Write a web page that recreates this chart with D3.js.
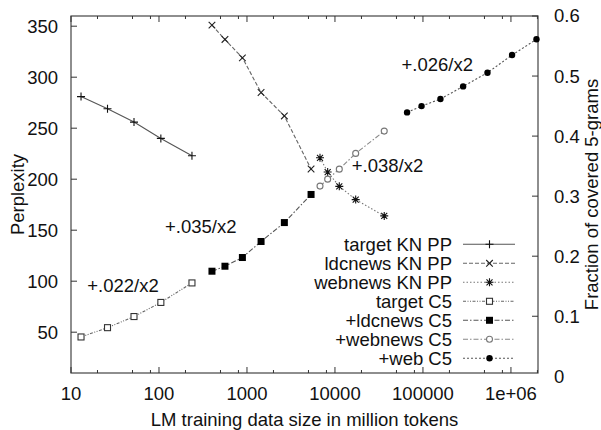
<!DOCTYPE html>
<html>
<head>
<meta charset="utf-8">
<script src="https://cdn.jsdelivr.net/npm/d3@7"></script>
<style>
  body { margin: 0; background: #fff; }
  text { font-family: "Liberation Sans", Arial, sans-serif; fill: #111; }
</style>
</head>
<body>
<div id="chart_area"></div>
<script>
// Data.
var target_size = [13, 26, 52, 105, 237];
var ldc_size = [400, 562, 887, 1446, 2660, 5350];
var webnews_size = [6760, 8260, 11200, 17200, 36300];
var web_size = [66000, 96400, 158000, 286000, 541000, 1030000, 1950000];

var target_pp = [281, 269, 256, 240, 223];
var ldc_pp = [351, 337, 319, 285, 262, 210];
var webnews_pp = [221, 207, 193, 180, 164];

var target_c5 = [0.0655, 0.081, 0.0995, 0.123, 0.1555];
var ldc_c5 = [0.175, 0.1833, 0.1978, 0.2245, 0.256, 0.3028];
var webnews_c5 = [0.3167, 0.3283, 0.345, 0.3712, 0.4083];
var web_c5 = [0.4395, 0.45, 0.4617, 0.4828, 0.5055, 0.535, 0.5612];

var x_major = [10, 100, 1000, 10000, 100000, 1000000];
var x_labels = ["10", "100", "1000", "10000", "100000", "1e+06"];
var y_ticks = [50, 100, 150, 200, 250, 300, 350];
var y2_ticks = [0, 0.1, 0.2, 0.3, 0.4, 0.5, 0.6];
var y2_labels = ["0", "0.1", "0.2", "0.3", "0.4", "0.5", "0.6"];

// annotation anchors in data units (left edge, perplexity axis)
var notes = [
  {text: "+.022/x2", x: 15.3, y: 96},
  {text: "+.035/x2", x: 117, y: 154},
  {text: "+.038/x2", x: 15500, y: 213},
  {text: "+.026/x2", x: 57100, y: 312}
];

var series = [
  {name: "target KN PP", xs: target_size, ys: target_pp, axis: "y", marker: "plus", dash: null, color: "#555"},
  {name: "ldcnews KN PP", xs: ldc_size, ys: ldc_pp, axis: "y", marker: "cross", dash: "4,2", color: "#666"},
  {name: "webnews KN PP", xs: webnews_size, ys: webnews_pp, axis: "y", marker: "star", dash: "1.5,2", color: "#777"},
  {name: "target C5", xs: target_size, ys: target_c5, axis: "y2", marker: "square", dash: "3,1.5,1,1.5,1,1.5", color: "#666"},
  {name: "+ldcnews C5", xs: ldc_size, ys: ldc_c5, axis: "y2", marker: "fsquare", dash: "5,2,1.5,2", color: "#555"},
  {name: "+webnews C5", xs: webnews_size, ys: webnews_c5, axis: "y2", marker: "circle", dash: "5,2,1.5,2", color: "#888"},
  {name: "+web C5", xs: web_size, ys: web_c5, axis: "y2", marker: "fcircle", dash: "2,2", color: "#555"}
];

var frame_width = 601, frame_height = 430;
var margin = {top: 16, right: 63, bottom: 57, left: 71};
var canvas_width = frame_width - margin.left - margin.right;
var canvas_height = frame_height - margin.top - margin.bottom;

var frame = d3.select("#chart_area").append("svg")
  .attr("width", frame_width).attr("height", frame_height);
var canvas = frame.append("g")
  .attr("transform", "translate(" + margin.left + "," + margin.top + ")");

var xScale = d3.scaleLog().domain([10, 2.03e6]).range([0, canvas_width]);
var yScale = d3.scaleLinear().domain([10, 360]).range([canvas_height, 0]);
var y2Scale = d3.scaleLinear().domain([0, 0.6]).range([canvas_height + 3.3, 0]);

var fs = 18.5;
var tick_col = "#333";

// frame
canvas.append("rect")
  .attr("width", canvas_width).attr("height", canvas_height)
  .attr("fill", "none").attr("stroke", "#444").attr("stroke-width", 1.2);

// x ticks (bottom and mirrored top)
var x_minor = [];
x_major.forEach(function(m) {
  [2, 5, 8].forEach(function(k) { if (m * k <= 2.03e6) x_minor.push(m * k); });
});
var ticks = canvas.append("g").attr("stroke", tick_col).attr("stroke-width", 1);
x_major.forEach(function(v) {
  var px = xScale(v);
  ticks.append("line").attr("x1", px).attr("x2", px).attr("y1", canvas_height).attr("y2", canvas_height - 6);
  ticks.append("line").attr("x1", px).attr("x2", px).attr("y1", 0).attr("y2", 6);
});
x_minor.forEach(function(v) {
  var px = xScale(v);
  ticks.append("line").attr("x1", px).attr("x2", px).attr("y1", canvas_height).attr("y2", canvas_height - 3);
  ticks.append("line").attr("x1", px).attr("x2", px).attr("y1", 0).attr("y2", 3);
});
y_ticks.forEach(function(v) {
  var py = yScale(v);
  ticks.append("line").attr("x1", 0).attr("x2", 6).attr("y1", py).attr("y2", py);
});
y2_ticks.forEach(function(v) {
  var py = y2Scale(v);
  if (py > canvas_height) return;
  ticks.append("line").attr("x1", canvas_width).attr("x2", canvas_width - 6).attr("y1", py).attr("y2", py);
});

// tick labels
canvas.selectAll(".xl").data(x_major).enter().append("text")
  .attr("x", function(d) { return xScale(d); })
  .attr("y", canvas_height + 27)
  .attr("text-anchor", "middle").style("font-size", fs + "px")
  .text(function(d, i) { return x_labels[i]; });
canvas.selectAll(".yl").data(y_ticks).enter().append("text")
  .attr("x", -13).attr("y", function(d) { return yScale(d); })
  .attr("dy", "0.35em").attr("text-anchor", "end").style("font-size", fs + "px")
  .text(function(d) { return d; });
canvas.selectAll(".y2l").data(y2_ticks).enter().append("text")
  .attr("x", canvas_width + 16).attr("y", function(d) { return y2Scale(d); })
  .attr("dy", "0.35em").attr("text-anchor", "start").style("font-size", fs + "px")
  .text(function(d, i) { return y2_labels[i]; });

// axis titles
frame.append("text")
  .attr("x", margin.left + canvas_width / 2).attr("y", 426)
  .attr("text-anchor", "middle").style("font-size", fs + "px")
  .text("LM training data size in million tokens");
frame.append("text")
  .attr("transform", "translate(24," + (margin.top + canvas_height / 2) + ") rotate(-90)")
  .attr("text-anchor", "middle").style("font-size", fs + "px")
  .text("Perplexity");
frame.append("text")
  .attr("transform", "translate(598," + (margin.top + canvas_height / 2) + ") rotate(-90)")
  .attr("text-anchor", "middle").style("font-size", fs + "px")
  .text("Fraction of covered 5-grams");

// markers
function drawMarker(g, type, x, y) {
  var s = 4;
  if (type == "plus") {
    g.append("path").attr("d", "M" + (x - s) + "," + y + "H" + (x + s) + "M" + x + "," + (y - s) + "V" + (y + s))
      .attr("stroke", "#111").attr("stroke-width", 1.1).attr("fill", "none");
  } else if (type == "cross") {
    var c = 3.3;
    g.append("path").attr("d", "M" + (x - c) + "," + (y - c) + "L" + (x + c) + "," + (y + c) + "M" + (x - c) + "," + (y + c) + "L" + (x + c) + "," + (y - c))
      .attr("stroke", "#222").attr("stroke-width", 1.1).attr("fill", "none");
  } else if (type == "star") {
    var c2 = 3;
    g.append("path").attr("d", "M" + (x - s) + "," + y + "H" + (x + s) + "M" + x + "," + (y - s) + "V" + (y + s) +
      "M" + (x - c2) + "," + (y - c2) + "L" + (x + c2) + "," + (y + c2) + "M" + (x - c2) + "," + (y + c2) + "L" + (x + c2) + "," + (y - c2))
      .attr("stroke", "#111").attr("stroke-width", 1.1).attr("fill", "none");
  } else if (type == "square") {
    g.append("rect").attr("x", x - 3).attr("y", y - 3).attr("width", 6).attr("height", 6)
      .attr("fill", "#fff").attr("stroke", "#333").attr("stroke-width", 1.1);
  } else if (type == "fsquare") {
    g.append("rect").attr("x", x - 3.5).attr("y", y - 3.5).attr("width", 7).attr("height", 7)
      .attr("fill", "#000");
  } else if (type == "circle") {
    g.append("circle").attr("cx", x).attr("cy", y).attr("r", 3)
      .attr("fill", "#fff").attr("stroke", "#777").attr("stroke-width", 1.1);
  } else if (type == "fcircle") {
    g.append("circle").attr("cx", x).attr("cy", y).attr("r", 3.2).attr("fill", "#000");
  }
}

var line = d3.line();
var data_canvas = canvas.append("g").attr("class", "data_canvas");
series.forEach(function(s) {
  var ys = s.axis == "y" ? yScale : y2Scale;
  var pts = s.xs.map(function(v, i) { return [xScale(v), ys(s.ys[i])]; });
  data_canvas.append("path").attr("d", line(pts))
    .attr("fill", "none").attr("stroke", s.color).attr("stroke-width", 1.1)
    .attr("stroke-dasharray", s.dash);
  var mg = data_canvas.append("g");
  pts.forEach(function(p) { drawMarker(mg, s.marker, p[0], p[1]); });
});

// notes
notes.forEach(function(n) {
  canvas.append("text")
    .attr("x", xScale(n.x)).attr("y", yScale(n.y)).attr("dy", "0.35em")
    .attr("text-anchor", "start").style("font-size", fs + "px")
    .text(n.text);
});

// legend
var legend = frame.append("g").attr("transform", "translate(0,244.3)");
series.forEach(function(s, i) {
  var row = legend.append("g").attr("transform", "translate(0," + (i * 19) + ")");
  row.append("text").attr("x", 452).attr("y", 0).attr("dy", "0.35em")
    .attr("text-anchor", "end").style("font-size", fs + "px").text(s.name);
  row.append("line").attr("x1", 463).attr("x2", 515).attr("y1", 0).attr("y2", 0)
    .attr("stroke", s.color).attr("stroke-width", 1.1).attr("stroke-dasharray", s.dash);
  drawMarker(row, s.marker, 489.5, 0);
});
</script>
</body>
</html>
